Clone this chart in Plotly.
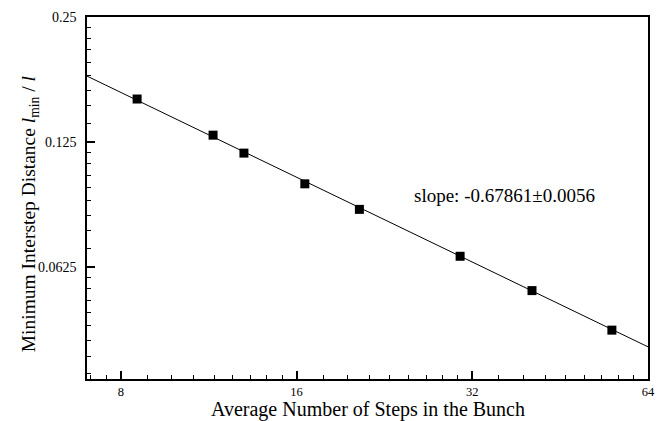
import math
import plotly.graph_objects as go

# Data
steps = [8.53, 11.51, 13.0, 16.53, 20.5, 30.5, 40.5, 55.5]
min_dist = [0.1587, 0.1299, 0.1176, 0.0992, 0.0861, 0.0664, 0.0549, 0.0441]

# Fitted power-law line endpoints
fit_x = [7.0, 64.0]
fit_y = [0.1802, 0.0402]

x_ticks = [8, 16, 32, 64]
x_ticklabels = ["8", "16", "32", "64"]
y_ticks = [0.0625, 0.125, 0.25]
y_ticklabels = ["0.0625", "0.125", "0.25"]

x_min, x_max = 7.0, 64.0
y_min, y_max = 0.03364, 0.25

def octave_minors(bases, lo, hi):
    vals = []
    for b in bases:
        for k in range(1, 9):
            v = b + k * b / 9.0
            if lo < v < hi:
                vals.append(v)
    return vals

x_minor = octave_minors([4, 8, 16, 32], x_min, x_max)
y_minor = octave_minors([0.015625, 0.03125, 0.0625, 0.125], y_min, y_max)

FONT = "Liberation Serif"

fig = go.Figure()
fig.add_trace(go.Scatter(
    x=fit_x, y=fit_y, mode="lines",
    line=dict(color="black", width=1), showlegend=False, hoverinfo="skip"))
fig.add_trace(go.Scatter(
    x=steps, y=min_dist, mode="markers",
    marker=dict(symbol="square", size=9, color="black"), showlegend=False))

fig.add_annotation(
    x=math.log10(36.4), y=math.log10(0.0931), xref="x", yref="y",
    text="slope: -0.67861±0.0056", showarrow=False,
    xanchor="center", yanchor="middle",
    font=dict(family=FONT, size=19, color="black"))

# Axis titles as annotations for exact placement
fig.add_annotation(
    x=0.5, y=0, xref="paper", yref="paper",
    text="Average Number of Steps in the Bunch", showarrow=False,
    xanchor="center", yanchor="middle", yshift=-30,
    font=dict(family=FONT, size=20, color="black"))
fig.add_annotation(
    x=0, y=0.455, xref="paper", yref="paper",
    text="Minimum Interstep Distance <i>l</i><sub>min</sub> / <i>l</i>",
    showarrow=False, textangle=-90,
    xanchor="center", yanchor="middle", xshift=-57,
    font=dict(family=FONT, size=19.5, color="black"))

axis_common = dict(
    type="log", automargin=False,
    showgrid=False, zeroline=False,
    showline=True, linecolor="black", linewidth=1.6, mirror=True,
    ticks="inside", ticklen=8, tickwidth=1.5, tickcolor="black",
    tickmode="array",
)

fig.update_xaxes(
    **axis_common,
    range=[math.log10(x_min), math.log10(x_max)],
    tickvals=x_ticks, ticktext=x_ticklabels,
    tickfont=dict(family=FONT, size=12.5, color="black"),
    ticklabelstandoff=0,
    minor=dict(tickmode="array", tickvals=x_minor, ticks="inside",
               ticklen=4, tickwidth=1.3, tickcolor="black", showgrid=False),
)
fig.update_yaxes(
    **axis_common,
    range=[math.log10(y_min), math.log10(y_max)],
    tickvals=y_ticks, ticktext=y_ticklabels,
    tickfont=dict(family=FONT, size=14, color="black"),
    ticklabelstandoff=6,
    minor=dict(tickmode="array", tickvals=y_minor, ticks="inside",
               ticklen=4, tickwidth=1.3, tickcolor="black", showgrid=False),
)

fig.update_layout(
    width=665, height=421,
    margin=dict(l=87, r=17, t=17, b=42),
    paper_bgcolor="white", plot_bgcolor="white",
    font=dict(family=FONT, color="black"),
)

fig.write_html("out.html")
